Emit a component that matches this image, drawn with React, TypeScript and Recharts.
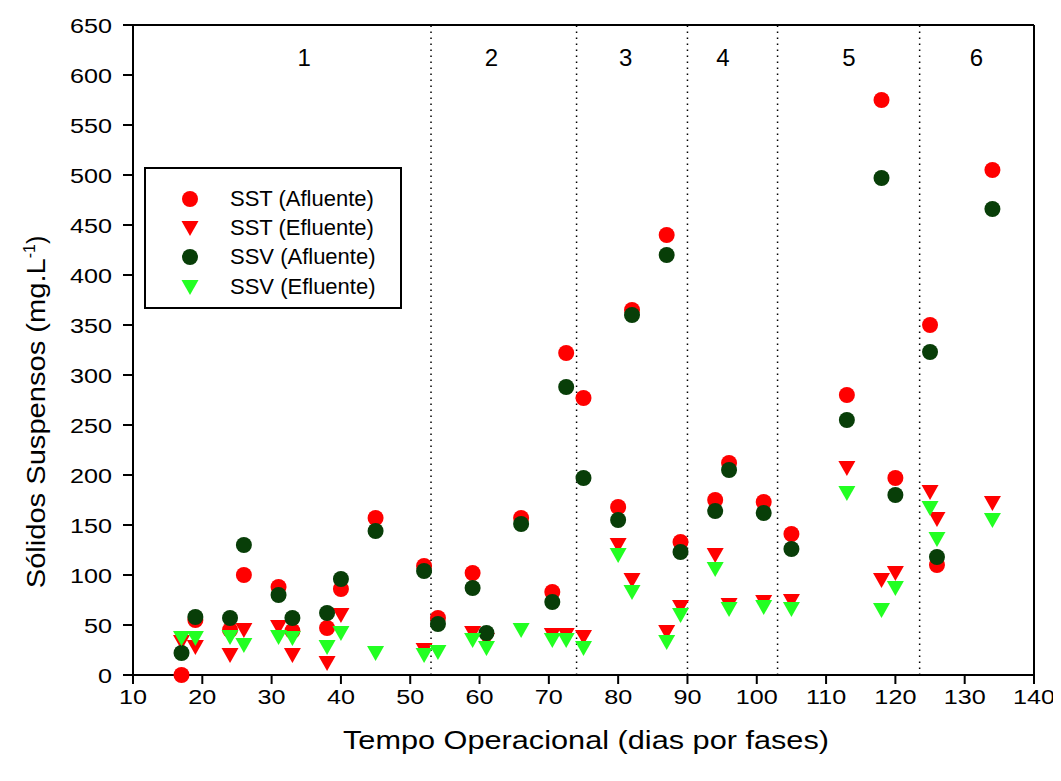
import React from "react";
import {
  ScatterChart,
  Scatter,
  XAxis,
  YAxis,
  ReferenceLine,
  ReferenceDot,
  Legend,
} from "recharts";

const FONT = '"Liberation Sans", Arial, sans-serif';

// days of operation (x)
const DAYS = [
  17, 19, 24, 26, 31, 33, 38, 40, 45, 52, 54, 59, 61, 66, 70.5, 72.5, 75, 80, 82,
  87, 89, 94, 96, 101, 105, 113, 118, 120, 125, 126, 134,
];

const SST_AFL = [
  0, 55, 45, 100, 88, 44, 47, 86, 157, 109, 57, 102, null, 157, 83, 322, 277, 168,
  365, 440, 133, 175, 212, 173, 141, 280, 575, 197, 350, 110, 505,
];
const SST_EFL = [
  33, 28, 20, 45, 48, 20, 12, 60, null, 25, null, 42, 35, null, 40, 40, 38, 130,
  95, 43, 68, 120, 70, 73, 74, 207, 95, 102, 183, 156, 172,
];
const SSV_AFL = [
  22, 58, 57, 130, 80, 57, 62, 96, 144, 104, 51, 87, 42, 151, 73, 288, 197, 155,
  360, 420, 123, 164, 205, 162, 126, 255, 497, 180, 323, 118, 466,
];
const SSV_EFL = [
  37, 37, 38, 30, 38, 37, 28, 42, 22, 20, 23, 35, 27, 45, 35, 35, 27, 120, 83, 33,
  60, 106, 66, 68, 66, 182, 65, 87, 167, 136, 155,
];

const X_TICKS = [10, 20, 30, 40, 50, 60, 70, 80, 90, 100, 110, 120, 130, 140];
const Y_TICKS = [0, 50, 100, 150, 200, 250, 300, 350, 400, 450, 500, 550, 600, 650];

// phase boundaries and phase labels
const PHASE_LINES = [53, 74, 90, 103, 123.5];
const PHASE_LABELS = ["1", "2", "3", "4", "5", "6"];
const PHASE_LABEL_X = [34.7, 61.7, 81.1, 95.1, 113.3, 131.7];
const PHASE_LABEL_Y = 618;

const RED = "#FF0000";
const DARK_GREEN = "#083E08";
const LIGHT_GREEN = "#22FF22";

// the original figure is stretched a little horizontally
const STRETCH = 1.2;

const toPoints = (vals: (number | null)[]) =>
  DAYS.map((d, i) => ({ x: d, y: vals[i] })).filter((p) => p.y !== null);

const Circle = (props: any) => {
  const { cx, cy, fill } = props;
  return <circle cx={cx} cy={cy} r={8} fill={fill} />;
};

const TriDown = (props: any) => {
  const { cx, cy, fill } = props;
  return (
    <polygon
      points={`${cx - 8.5},${cy - 7} ${cx + 8.5},${cy - 7} ${cx},${cy + 8}`}
      fill={fill}
    />
  );
};

const XTick = (props: any) => {
  const { x, y, payload } = props;
  return (
    <text
      transform={`translate(${x},${y + 20}) scale(${STRETCH},1)`}
      textAnchor="middle"
      fontFamily={FONT}
      fontSize={21}
      fill="#000"
    >
      {payload.value}
    </text>
  );
};

const YTick = (props: any) => {
  const { x, y, payload } = props;
  return (
    <text
      transform={`translate(${x},${y + 7.5}) scale(${STRETCH},1)`}
      textAnchor="end"
      fontFamily={FONT}
      fontSize={21}
      fill="#000"
    >
      {payload.value}
    </text>
  );
};

const YLabel = () => (
  <text
    transform="translate(37, 404) rotate(-90)"
    textAnchor="middle"
    fontFamily={FONT}
    fontSize={25}
    fill="#000"
  >
    <tspan textLength={330} lengthAdjust="spacingAndGlyphs">
      Sólidos Suspensos (mg.L
    </tspan>
    <tspan dy={-10} fontSize={16}>
      -1
    </tspan>
    <tspan dy={10}>)</tspan>
  </text>
);

const XLabel = () => (
  <text
    x={578}
    y={741}
    textAnchor="middle"
    fontFamily={FONT}
    fontSize={26}
    fill="#000"
    textLength={486}
    lengthAdjust="spacingAndGlyphs"
  >
    Tempo Operacional (dias por fases)
  </text>
);

const LegendBox = (props: any) => {
  const { payload } = props;
  return (
    <div
      style={{
        border: "2px solid #000",
        background: "#fff",
        width: 258,
        height: 142,
        boxSizing: "border-box",
        paddingTop: 15,
        fontFamily: FONT,
        fontSize: 22,
      }}
    >
      {(payload || []).map((p: any, i: number) => (
        <div
          key={i}
          style={{ display: "flex", alignItems: "center", height: 29.3 }}
        >
          <svg width={20} height={20} style={{ marginLeft: 34, marginRight: 30 }}>
            {p.payload?.legendType === "circle" ? (
              <circle cx={10} cy={10} r={8} fill={p.color} />
            ) : (
              <polygon points="1.5,3 18.5,3 10,18" fill={p.color} />
            )}
          </svg>
          <span>{p.value}</span>
        </div>
      ))}
    </div>
  );
};

export default function App() {
  return (
    <ScatterChart
      width={1053}
      height={765}
      margin={{ top: 17, right: 27, left: 0, bottom: 18 }}
      style={{ fontFamily: FONT }}
    >
      <XAxis
        type="number"
        dataKey="x"
        domain={[10, 140]}
        ticks={X_TICKS}
        interval={0}
        height={80}
        tickSize={9}
        tickMargin={0}
        stroke="#000"
        strokeWidth={2}
        tick={<XTick />}
        label={{ content: () => <XLabel /> }}
      />
      <YAxis
        type="number"
        dataKey="y"
        domain={[0, 650]}
        ticks={Y_TICKS}
        interval={0}
        width={125}
        tickSize={10}
        tickMargin={11}
        stroke="#000"
        strokeWidth={2}
        tick={<YTick />}
        label={{ content: () => <YLabel /> }}
      />
      <ReferenceLine y={650} stroke="#000" strokeWidth={2} />
      <ReferenceLine x={140} stroke="#000" strokeWidth={2} />
      {PHASE_LINES.map((x) => (
        <ReferenceLine
          key={x}
          x={x}
          stroke="#000"
          strokeWidth={1.5}
          strokeDasharray="1.5 4.5"
        />
      ))}
      {PHASE_LABELS.map((t, i) => (
        <ReferenceDot
          key={t}
          x={PHASE_LABEL_X[i]}
          y={PHASE_LABEL_Y}
          r={0}
          fill="none"
          stroke="none"
          label={{
            value: t,
            position: "center",
            fontSize: 24,
            fill: "#000",
            fontFamily: FONT,
          }}
        />
      ))}
      <Legend
        layout="horizontal"
        verticalAlign="middle"
        align="center"
        wrapperStyle={{ left: 136, top: 159, width: 258 }}
        content={<LegendBox />}
      />
      <Scatter
        name="SST (Afluente)"
        data={toPoints(SST_AFL)}
        fill={RED}
        legendType="circle"
        shape={<Circle />}
        isAnimationActive={false}
      />
      <Scatter
        name="SST (Efluente)"
        data={toPoints(SST_EFL)}
        fill={RED}
        legendType="triangle"
        shape={<TriDown />}
        isAnimationActive={false}
      />
      <Scatter
        name="SSV (Afluente)"
        data={toPoints(SSV_AFL)}
        fill={DARK_GREEN}
        legendType="circle"
        shape={<Circle />}
        isAnimationActive={false}
      />
      <Scatter
        name="SSV (Efluente)"
        data={toPoints(SSV_EFL)}
        fill={LIGHT_GREEN}
        legendType="triangle"
        shape={<TriDown />}
        isAnimationActive={false}
      />
    </ScatterChart>
  );
}
